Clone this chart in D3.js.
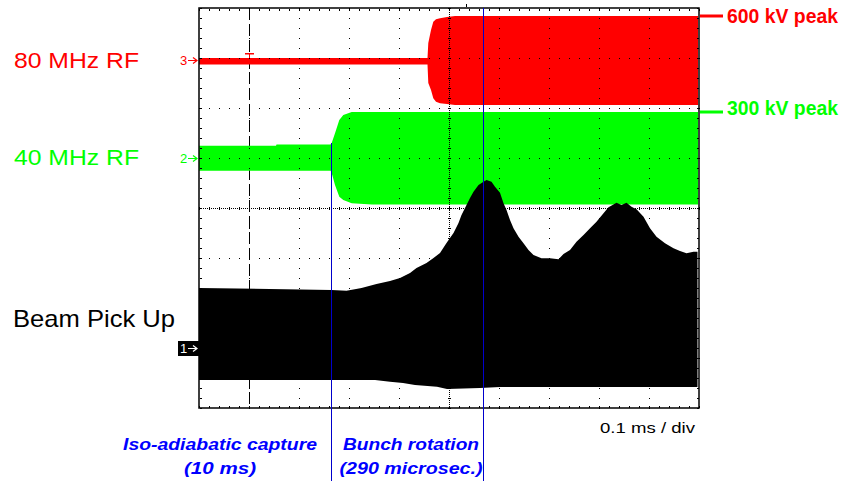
<!DOCTYPE html>
<html lang="en">
<head>
<meta charset="utf-8">
<title>80/40 MHz RF capture and bunch rotation</title>
<style>
  body { margin: 0; background: #fff; }
  svg { display: block; font-family: "Liberation Sans", Arial, sans-serif; }
</style>
</head>
<body>
<div id="chart"></div>
<script src="https://d3js.org/d3.v7.min.js"></script>
<script>
// time in ms (0.1 ms / div), amplitude in screen divisions from the centre line

// channel 3 : 80 MHz RF envelope
const ch3Time  = [0, 0.457, 0.4586, 0.464, 0.4686, 0.474, 0.482, 0.496, 0.512, 0.998];
const ch3Upper = [3.0, 3.0, 3.3, 3.56, 3.726, 3.774, 3.794, 3.82, 3.84, 3.84];
const ch3Lower = [2.87, 2.87, 2.5, 2.36, 2.194, 2.126, 2.094, 2.08, 2.06, 2.06];

// channel 2 : 40 MHz RF envelope
const ch2Time  = [0, 0.154, 0.155, 0.263, 0.2654, 0.272, 0.2806, 0.2886, 0.3054, 0.346, 0.998];
const ch2Upper = [1.246, 1.246, 1.27, 1.27, 1.30, 1.494, 1.76, 1.86, 1.92, 1.92, 1.92];
const ch2Lower = [0.746, 0.746, 0.746, 0.746, 0.70, 0.46, 0.226, 0.16, 0.094, 0.07, 0.07];

// channel 1 : beam pick-up, top edge
const ch1UpperTime = [0, 0.265, 0.295, 0.325, 0.355, 0.382, 0.402, 0.422, 0.435, 0.455,
  0.469, 0.482, 0.495, 0.509, 0.519, 0.525, 0.536, 0.542, 0.549, 0.559, 0.569, 0.575,
  0.585, 0.592, 0.602, 0.609, 0.615, 0.622, 0.629, 0.639, 0.649, 0.659, 0.669, 0.685,
  0.702, 0.719, 0.729, 0.742, 0.755, 0.769, 0.785, 0.795, 0.809, 0.819, 0.835, 0.845,
  0.855, 0.865, 0.875, 0.889, 0.902, 0.915, 0.932, 0.949, 0.962, 0.975, 0.989, 0.997];
const ch1Upper = [-1.6, -1.64, -1.654, -1.6, -1.52, -1.46, -1.4, -1.3, -1.2, -1.1,
  -1.0, -0.9, -0.7, -0.5, -0.3, -0.14, 0.08, 0.2, 0.326, 0.46, 0.526, 0.56,
  0.526, 0.426, 0.306, 0.094, -0.04, -0.24, -0.406, -0.574, -0.706, -0.84, -0.94, -1.006,
  -1.006, -1.026, -0.92, -0.84, -0.674, -0.54, -0.374, -0.274, -0.106, 0.014, 0.106, 0.06,
  0.106, 0.026, -0.026, -0.174, -0.406, -0.574, -0.706, -0.806, -0.86, -0.906, -0.874, -0.874];
// channel 1 : bottom edge
const ch1LowerTime = [0, 0.352, 0.382, 0.408, 0.432, 0.476, 0.496, 0.562, 0.602, 0.997];
const ch1Lower = [-3.44, -3.44, -3.474, -3.5, -3.54, -3.574, -3.62, -3.6, -3.58, -3.58];

const channelNames = ["80 MHz RF", "40 MHz RF", "Beam Pick Up"];
const channelIds = ["3", "2", "1"];
const channelOffsets = [2.96, 1.0, -2.8];
const peakLabels = ["600 kV peak", "300 kV peak"];
const phaseTimes = [0.264, 0.568];
const phaseLabels = [["Iso-adiabatic capture", "(10 ms)"], ["Bunch rotation", "(290 microsec.)"]];
const triggerTime = 0.1;
const timebase = "0.1 ms / div";

const width = 846, height = 481;
const red = "#ff0000", green = "#00ff00", blue = "#0000ff";

const x = d3.scaleLinear().domain([0, 1]).range([199, 699]);
const y = d3.scaleLinear().domain([-4, 4]).range([408, 8]);

const svg = d3.select("#chart").append("svg")
    .attr("width", width)
    .attr("height", height);

svg.append("rect").attr("width", width).attr("height", height).attr("fill", "#fff");

// trigger position marker (dashed)
svg.append("line")
    .attr("x1", x(triggerTime) + 0.5).attr("x2", x(triggerTime) + 0.5)
    .attr("y1", y(4)).attr("y2", y(-4))
    .attr("stroke", "#000")
    .attr("stroke-dasharray", "12,4");

function envelope(tUp, up, tLo, lo) {
  const pts = tUp.map((t, i) => [t, up[i]])
      .concat(tLo.map((t, i) => [t, lo[i]]).reverse());
  return d3.line().x(d => x(d[0])).y(d => y(d[1]))(pts) + "Z";
}

svg.append("path").attr("d", envelope(ch2Time, ch2Upper, ch2Time, ch2Lower)).attr("fill", green);
svg.append("path").attr("d", envelope(ch3Time, ch3Upper, ch3Time, ch3Lower)).attr("fill", red);
svg.append("path").attr("d", envelope(ch1UpperTime, ch1Upper, ch1LowerTime, ch1Lower)).attr("fill", "#000");

// graticule: dotted lines every division, finer on the centre cross
const grid = svg.append("g").attr("fill", "#000").attr("shape-rendering", "crispEdges");
const dot = (px, py, w, h) => grid.append("rect")
    .attr("x", Math.round(px)).attr("y", Math.round(py))
    .attr("width", w || 1).attr("height", h || 1);

for (let k = 1; k < 10; k++) {
  const px = x(k * 0.1);
  if (k === 5) {
    for (let v = -4; v <= 4.001; v += 0.04) dot(px, y(v));
    for (let v = -4; v <= 4.001; v += 0.2) dot(px - 1, y(v), 3, 1);
  } else {
    for (let v = -4; v <= 4.001; v += 0.2) dot(px, y(v));
  }
}
for (let j = -3; j <= 3; j++) {
  const py = y(j);
  if (j === 0) {
    for (let t = 0; t <= 1.0001; t += 0.004) dot(x(t), py);
    for (let t = 0; t <= 1.0001; t += 0.02) dot(x(t), py - 1, 1, 3);
  } else {
    for (let t = 0; t <= 1.0001; t += 0.02) dot(x(t), py);
  }
}
// ticks on the frame
for (let v = -4; v <= 4.001; v += 0.2) {
  dot(x(0) + 1, y(v), 2, 1);
  dot(x(1) - 2, y(v), 2, 1);
}
for (let t = 0; t <= 1.0001; t += 0.02) {
  dot(x(t), y(4) + 1, 1, 2);
  dot(x(t), y(-4) - 2, 1, 2);
}

svg.append("rect")
    .attr("x", x(0)).attr("y", y(4))
    .attr("width", x(1) - x(0)).attr("height", y(-4) - y(4))
    .attr("fill", "none").attr("stroke", "#000").attr("stroke-width", 1.5);

// small markers on top of the screen
svg.append("rect").attr("x", 466).attr("y", 4).attr("width", 1).attr("height", 3).attr("fill", "#000");
svg.append("rect").attr("x", x(triggerTime) - 4).attr("y", y(ch3Upper[0]) - 5)
    .attr("width", 9).attr("height", 1.5).attr("fill", red);
svg.append("rect").attr("x", x(triggerTime)).attr("y", y(ch3Upper[0]) - 5)
    .attr("width", 1).attr("height", 5).attr("fill", red);

// phase boundaries
svg.selectAll("line.phase")
  .data(phaseTimes)
  .enter().append("line")
    .attr("class", "phase")
    .attr("x1", d => x(d) + 0.5).attr("x2", d => x(d) + 0.5)
    .attr("y1", (d, i) => i === 0 ? y(ch2Upper[4]) : y(4))
    .attr("y2", height)
    .attr("stroke", "#0000cc").attr("stroke-width", 1);

// channel ground markers
const chColors = [red, green, "#000"];
channelIds.forEach((id, i) => {
  const cy = y(channelOffsets[i]);
  if (i === 2) {
    svg.append("rect").attr("x", 178).attr("y", cy - 7).attr("width", 21).attr("height", 15).attr("fill", "#000");
  }
  const col = i === 2 ? "#fff" : chColors[i];
  svg.append("text")
      .attr("x", 180).attr("y", cy + 5)
      .attr("font-size", 13)
      .attr("fill", col)
      .text(id);
  svg.append("path")
      .attr("d", `M188,${cy + 0.5}H196M193,${cy - 2.5}L197,${cy + 0.5}L193,${cy + 3.5}`)
      .attr("stroke", col).attr("stroke-width", 1.2).attr("fill", "none");
});

// channel names
const nameY = [68, 165, 327];
const nameLen = [125, 125, 162];
const nameSize = [22, 22, 24];
channelNames.forEach((n, i) => {
  svg.append("text")
      .attr("x", i === 2 ? 13 : 14).attr("y", nameY[i])
      .attr("font-size", nameSize[i])
      .attr("textLength", nameLen[i]).attr("lengthAdjust", "spacingAndGlyphs")
      .attr("fill", chColors[i])
      .text(n);
});

// peak level markers
const peaks = [d3.max(ch3Upper), d3.max(ch2Upper)];
peakLabels.forEach((lab, i) => {
  const py = y(peaks[i]);
  svg.append("rect").attr("x", 700).attr("y", py - 1.5).attr("width", 23).attr("height", 3).attr("fill", chColors[i]);
  svg.append("text")
      .attr("x", 727).attr("y", py + (i === 0 ? 7 : 3))
      .attr("font-size", 21).attr("font-weight", "bold")
      .attr("textLength", 111).attr("lengthAdjust", "spacingAndGlyphs")
      .attr("fill", chColors[i])
      .text(lab);
});

svg.append("text")
    .attr("x", 600).attr("y", 433)
    .attr("font-size", 14)
    .attr("textLength", 95).attr("lengthAdjust", "spacingAndGlyphs")
    .text(timebase);

// phase labels
const labelCx = [220, 411];
const labelLen = [[194, 72], [136, 143]];
phaseLabels.forEach((lines, i) => {
  lines.forEach((s, j) => {
    svg.append("text")
        .attr("x", labelCx[i]).attr("y", j === 0 ? 450 : 474)
        .attr("text-anchor", "middle")
        .attr("font-size", 16).attr("font-weight", "bold").attr("font-style", "italic")
        .attr("textLength", labelLen[i][j]).attr("lengthAdjust", "spacingAndGlyphs")
        .attr("fill", blue)
        .text(s);
  });
});
</script>
</body>
</html>
